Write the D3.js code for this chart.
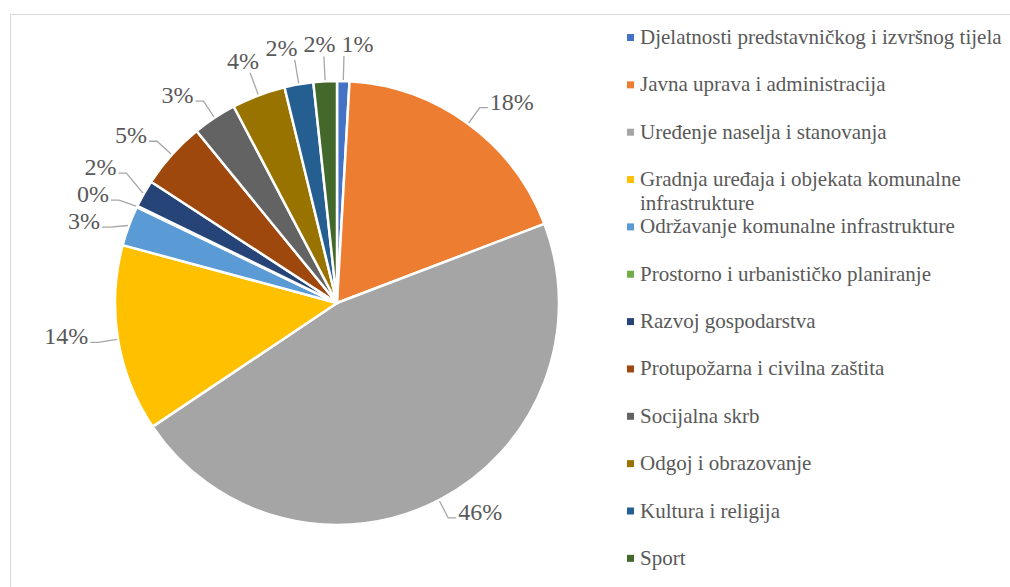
<!DOCTYPE html>
<html lang="hr">
<head>
<meta charset="UTF-8">
<title>Struktura rashoda po funkcijama</title>
<script src="https://d3js.org/d3.v7.min.js"></script>
</head>
<body style="margin:0">
<script>
// Podaci
const categories = [
    "Djelatnosti predstavničkog i izvršnog tijela",
    "Javna uprava i administracija",
    "Uređenje naselja i stanovanja",
    "Gradnja uređaja i objekata komunalne infrastrukture",
    "Održavanje komunalne infrastrukture",
    "Prostorno i urbanističko planiranje",
    "Razvoj gospodarstva",
    "Protupožarna i civilna zaštita",
    "Socijalna skrb",
    "Odgoj i obrazovanje",
    "Kultura i religija",
    "Sport"
];
const shares = [0.9, 18.3, 46.4, 13.6, 2.9, 0.1, 2.0, 4.9, 3.2, 3.9, 2.1, 1.7];
const colors = ["#4472C4", "#ED7D31", "#A5A5A5", "#FFC000", "#5B9BD5", "#70AD47",
                "#264478", "#9E480E", "#636363", "#997300", "#255E91", "#43682B"];

const width = 1010, height = 587;
const cx = 337, cy = 303, radius = 222;
const textColor = "#595959";
const serif = "'Liberation Serif'";

const svg = d3.select("body")
    .append("svg")
    .attr("width", width)
    .attr("height", height);

// okvir grafikona
svg.append("rect")
    .attr("x", 10.5)
    .attr("y", 14.5)
    .attr("width", width)
    .attr("height", height)
    .attr("fill", "none")
    .attr("stroke", "#d9d9d9");

const data = categories.map((name, i) => ({ name, value: shares[i], color: colors[i] }));
const total = d3.sum(shares);
const fmt = v => Math.round(v / total * 100) + "%";

const pie = d3.pie().value(d => d.value).sort(null);
const arcs = pie(data);
const arc = d3.arc().innerRadius(0).outerRadius(radius);

const g = svg.append("g").attr("transform", `translate(${cx},${cy})`);

g.selectAll("path.slice")
    .data(arcs)
    .join("path")
    .attr("class", "slice")
    .attr("d", arc)
    .attr("fill", d => d.data.color)
    .attr("stroke", "#ffffff")
    .attr("stroke-width", 2.5)
    .attr("stroke-linejoin", "round");

// --- Oznake s vodilicama ---
const leaderG = g.append("g");
const labelG = g.append("g");
const h = 22;
const lead = 20, stub = 8;

const labels = arcs.map(d => {
    const a = (d.startAngle + d.endAngle) / 2;
    const s = Math.sin(a), c = Math.cos(a);
    const text = labelG.append("text")
        .attr("font-size", 24)
        .style("font-family", serif)
        .attr("fill", textColor)
        .attr("text-anchor", "middle")
        .text(fmt(d.data.value));
    const w = text.node().getComputedTextLength();
    const side = Math.abs(s) >= 0.4;
    const dir = s >= 0 ? 1 : -1;
    const r = radius + (side ? lead : lead + 4);
    const ex = r * s, ey = -r * c;
    let x, y;
    if (side) {
        x = ex + dir * (stub + 2 + w / 2);
        y = ey - 6;
    } else {
        x = ex + s * (w / 2 + 4);
        y = ey - c * (h / 2 + 2);
    }
    return { text, a, s, c, w, h, x, y, side, dir, r };
});

// razmicanje oznaka koje se preklapaju
for (let k = 0; k < 300; k++) {
    let moved = false;
    for (let i = 0; i < labels.length; i++) {
        for (let j = i + 1; j < labels.length; j++) {
            const A = labels[i], B = labels[j];
            const ox = (A.w + B.w) / 2 + 6 - Math.abs(A.x - B.x);
            const oy = (A.h + B.h) / 2 + 5 - Math.abs(A.y - B.y);
            if (ox > 0 && oy > 0) {
                moved = true;
                const vertical = (A.side && B.side) ? true : (!A.side && !B.side ? false : oy < ox);
                if (vertical) {
                    const sg = A.y < B.y ? -1 : 1;
                    A.y += sg * oy / 2;
                    B.y -= sg * oy / 2;
                } else {
                    const sg = A.x < B.x ? -1 : 1;
                    A.x += sg * ox / 2;
                    B.x -= sg * ox / 2;
                }
            }
        }
    }
    if (!moved) break;
}

labels.forEach(L => {
    L.text.attr("x", L.x).attr("y", L.y + 8);
    const p0 = [(radius + 1) * L.s, -(radius + 1) * L.c];
    let pts;
    if (L.side) {
        const stubEnd = [L.x - L.dir * (L.w / 2 + 2), L.y + 6];
        const elbow = [stubEnd[0] - L.dir * stub, L.y + 6];
        pts = [p0, elbow, stubEnd];
    } else {
        const endX = Math.max(L.x - L.w / 2, Math.min(L.x + L.w / 2, L.r * L.s));
        const endY = L.y + (L.c > 0 ? 1 : -1) * (L.h / 2 + 1);
        pts = [p0, [endX, endY]];
    }
    const len = Math.hypot(pts[1][0] - pts[0][0], pts[1][1] - pts[0][1]);
    if (len < 6) return;
    leaderG.append("path")
        .attr("d", d3.line()(pts))
        .attr("fill", "none")
        .attr("stroke", "#a6a6a6")
        .attr("stroke-width", 1.3);
});

// --- Legenda ---
const rowH = 47.35;
const wrapWidth = 375;
const legend = svg.append("g").attr("transform", "translate(627,37.5)");

data.forEach((d, i) => {
    const item = legend.append("g").attr("transform", `translate(0,${i * rowH})`);
    item.append("rect")
        .attr("x", 0)
        .attr("y", -3.5)
        .attr("width", 7)
        .attr("height", 7)
        .attr("fill", d.color);
    const text = item.append("text")
        .attr("x", 13)
        .attr("y", 6.5)
        .attr("font-size", 21)
        .style("font-family", serif)
        .attr("fill", textColor);
    // prelamanje dugih naziva
    const words = d.name.split(" ");
    let line = [];
    let tspan = text.append("tspan").attr("x", 13).attr("dy", 0);
    words.forEach(word => {
        line.push(word);
        tspan.text(line.join(" "));
        if (tspan.node().getComputedTextLength() > wrapWidth && line.length > 1) {
            line.pop();
            tspan.text(line.join(" "));
            line = [word];
            tspan = text.append("tspan").attr("x", 13).attr("dy", 23.5).text(word);
        }
    });
});
</script>
</body>
</html>
